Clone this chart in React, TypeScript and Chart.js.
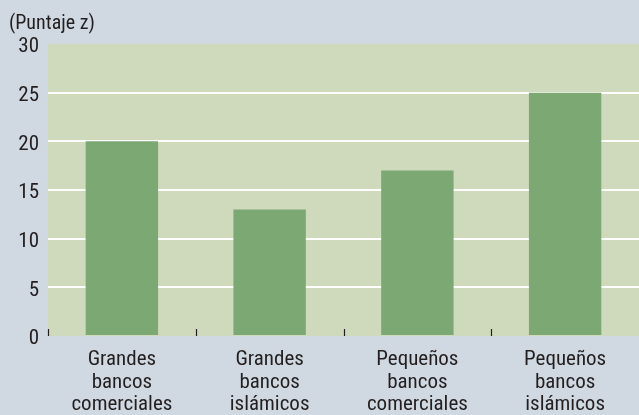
import React, { useEffect, useRef } from 'react';
import { Chart, registerables } from 'chart.js';

Chart.register(...registerables);

const categories: string[][] = [
  ['Grandes', 'bancos', 'comerciales'],
  ['Grandes', 'bancos', 'islámicos'],
  ['Pequeños', 'bancos', 'comerciales'],
  ['Pequeños', 'bancos', 'islámicos'],
];
const values: number[] = [20, 13, 17, 25];
const yMin = 0;
const yMax = 30;
const yStep = 5;
const yAxisLabel = '(Puntaje z)';

const FONT = "Roboto, 'DejaVu Sans Condensed', sans-serif";
const STRETCH = 'condensed';
const TEXT = '#231f20';
const OUTER_BG = '#d0d9e1';
const PLOT_BG = '#cfdabc';
const BAR = '#7ba873';

const bgPlugin = {
  id: 'bgPlugin',
  beforeDraw(chart: any) {
    const { ctx, chartArea, width, height } = chart;
    ctx.save();
    ctx.fillStyle = OUTER_BG;
    ctx.fillRect(0, 0, width, height);
    ctx.fillStyle = PLOT_BG;
    ctx.fillRect(chartArea.left, chartArea.top, chartArea.right - chartArea.left, chartArea.bottom - chartArea.top);
    ctx.restore();
  },
  afterDraw(chart: any) {
    const { ctx, chartArea } = chart;
    const xs = chart.scales.x;
    const n = categories.length;
    const step = xs.width / n;
    ctx.save();
    ctx.strokeStyle = TEXT;
    ctx.lineWidth = 1.2;
    for (let i = 0; i < n; i++) {
      const x = Math.round(xs.getPixelForValue(i) - step / 2) + 0.5;
      ctx.beginPath();
      ctx.moveTo(x, chartArea.bottom - 7);
      ctx.lineTo(x, chartArea.bottom);
      ctx.stroke();
    }
    ctx.restore();
  },
};

export default function App() {
  const ref = useRef<HTMLCanvasElement>(null);
  useEffect(() => {
    document.body.style.margin = '0';
    const canvas = ref.current!;
    const chart = new Chart(canvas, {
      type: 'bar',
      data: {
        labels: categories,
        datasets: [
          {
            data: values,
            backgroundColor: BAR,
            borderWidth: 0,
            categoryPercentage: 1,
            barPercentage: 0.49,
          },
        ],
      },
      options: {
        responsive: false,
        animation: false,
        layout: { padding: { left: 9, right: 0, top: 0, bottom: 0 } },
        plugins: {
          legend: { display: false },
          tooltip: { enabled: false },
          title: {
            display: true,
            text: yAxisLabel,
            align: 'start',
            color: TEXT,
            font: { family: FONT, size: 20, weight: STRETCH as any, style: 'normal' },
            padding: { top: 12, bottom: 8 },
          },
        },
        scales: {
          x: {
            afterFit(scale: any) {
              scale.height = 79;
            },
            grid: { display: false },
            border: { display: false },
            ticks: {
              color: TEXT,
              font: { family: FONT, size: 21, lineHeight: 1.07, weight: STRETCH as any, style: 'normal' },
              padding: 5,
              maxRotation: 0,
              autoSkip: false,
            },
          },
          y: {
            min: yMin,
            max: yMax,
            afterFit(scale: any) {
              scale.width = 39;
            },
            grid: {
              drawTicks: false,
              lineWidth: 2,
              color: (ctx: any) =>
                ctx.tick && (ctx.tick.value === yMin || ctx.tick.value === yMax) ? 'rgba(0,0,0,0)' : '#ffffff',
            },
            border: { display: false },
            ticks: {
              stepSize: yStep,
              color: TEXT,
              font: { family: FONT, size: 21, weight: STRETCH as any, style: 'normal' },
              padding: 9,
              labelOffset: 3,
            },
          },
        },
      },
      plugins: [bgPlugin],
    });
    return () => chart.destroy();
  }, []);
  return <canvas ref={ref} width={639} height={415} style={{ display: 'block' }} />;
}
